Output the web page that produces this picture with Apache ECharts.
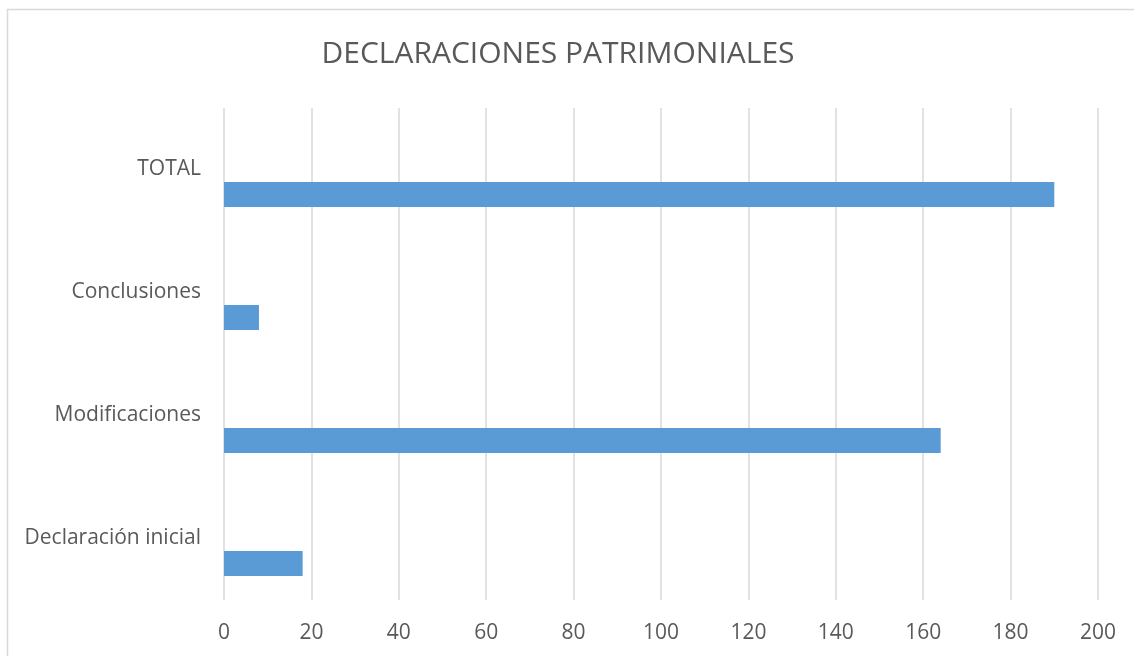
<!DOCTYPE html>
<html>
<head>
<meta charset="utf-8">
<script src="https://cdn.jsdelivr.net/npm/echarts@6/dist/echarts.min.js"></script>
<style>
  html, body { margin: 0; padding: 0; background: #fff; }
  #chart { width: 1134px; height: 656px; }
</style>
</head>
<body>
<div id="chart"></div>
<script>
// categorias (de abajo hacia arriba)
var categories = ['Declaración inicial', 'Modificaciones', 'Conclusiones', 'TOTAL'];
var values = [18, 164, 8, 190];
// series vacias como en la hoja original
var emptySeries = ['-', '-', '-', '-'];
var xTicks = [0, 20, 40, 60, 80, 100, 120, 140, 160, 180, 200];

var font = 'Open Sans';
var textColor = '#595959';

var myChart = echarts.init(document.getElementById('chart'));

var option = {
  animation: false,
  title: {
    text: 'DECLARACIONES PATRIMONIALES',
    left: 553,
    textAlign: 'center',
    top: 34,
    textStyle: { fontFamily: font, fontSize: 30, fontWeight: 'normal', color: textColor }
  },
  graphic: [{
    type: 'rect',
    shape: { x: 7.5, y: 9.5, width: 1200, height: 700 },
    style: { fill: 'none', stroke: '#d9d9d9', lineWidth: 1.5 },
    silent: true
  }],
  grid: { left: 224, right: 36, top: 108, bottom: 56 },
  xAxis: {
    type: 'value',
    min: xTicks[0],
    max: xTicks[xTicks.length - 1],
    interval: 20,
    axisLine: { show: false },
    axisTick: { show: false },
    axisLabel: { fontFamily: font, fontSize: 21, color: textColor, margin: 23 },
    splitLine: { lineStyle: { color: '#d9d9d9', width: 1.5 } }
  },
  yAxis: {
    type: 'category',
    data: categories,
    axisLine: { show: false },
    axisTick: { show: false },
    axisLabel: { fontFamily: font, fontSize: 21, color: textColor, margin: 23 }
  },
  series: [
    { name: 's1', type: 'bar', data: emptySeries, barWidth: 25, barGap: '0%' },
    { name: 's2', type: 'bar', data: emptySeries, barWidth: 25, barGap: '0%' },
    { name: 's3', type: 'bar', data: values, barWidth: 25, barGap: '0%', itemStyle: { color: '#5b9bd5' } }
  ]
};

myChart.setOption(option);
</script>
</body>
</html>
